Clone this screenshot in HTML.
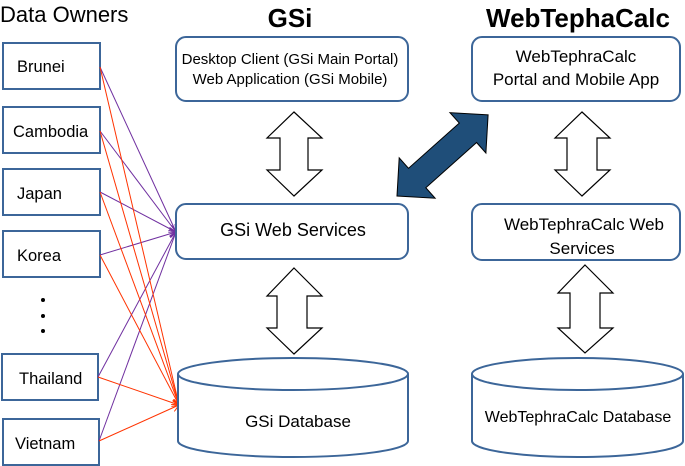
<!DOCTYPE html>
<html><head><meta charset="utf-8"><style>
html,body{margin:0;padding:0;background:#fff;}
svg{display:block;}
text{font-family:"Liberation Sans",sans-serif;fill:#000;}
</style></head><body>
<svg width="685" height="466" viewBox="0 0 685 466" xmlns="http://www.w3.org/2000/svg">
<defs>
<marker id="ap" markerWidth="8" markerHeight="8" refX="7" refY="4" orient="auto" markerUnits="userSpaceOnUse"><path d="M0,0 L7,4 L0,8" fill="none" stroke="#7030a0" stroke-width="1"/></marker>
<marker id="ar" markerWidth="8" markerHeight="8" refX="7" refY="4" orient="auto" markerUnits="userSpaceOnUse"><path d="M0,0 L7,4 L0,8" fill="none" stroke="#ff3300" stroke-width="1"/></marker>
</defs>
<text x="0" y="22" font-size="22">Data Owners</text>
<text x="290" y="27" font-size="26" font-weight="bold" text-anchor="middle">GSi</text>
<text x="578" y="27" font-size="26" font-weight="bold" text-anchor="middle">WebTephaCalc</text>

<g fill="#fff" stroke="#3c6699" stroke-width="2">
<rect x="3" y="43" width="97" height="46"/>
<rect x="3" y="107" width="97" height="46"/>
<rect x="3" y="169" width="97" height="46"/>
<rect x="3" y="231" width="97" height="46"/>
<rect x="2" y="354" width="96" height="46"/>
<rect x="3" y="419" width="96" height="46"/>
</g>
<g font-size="16.5">
<text x="17" y="72">Brunei</text>
<text x="13" y="137">Cambodia</text>
<text x="17" y="199">Japan</text>
<text x="17" y="261">Korea</text>
<text x="19" y="384">Thailand</text>
<text x="15" y="449">Vietnam</text>
</g>
<g fill="#000"><circle cx="43" cy="300" r="2"/><circle cx="43" cy="316" r="2"/><circle cx="43" cy="331" r="2"/></g>

<g stroke="#7030a0" stroke-width="1" fill="none" marker-end="url(#ap)">
<line x1="100" y1="67" x2="176" y2="232"/>
<line x1="100" y1="131" x2="176" y2="232"/>
<line x1="100" y1="192" x2="176" y2="232"/>
<line x1="100" y1="255" x2="176" y2="232"/>
<line x1="98" y1="377" x2="176" y2="232"/>
<line x1="99" y1="441" x2="176" y2="232"/>
</g>
<g stroke="#ff3300" stroke-width="1" fill="none" marker-end="url(#ar)">
<line x1="100" y1="67" x2="179" y2="405"/>
<line x1="100" y1="131" x2="179" y2="405"/>
<line x1="100" y1="192" x2="179" y2="405"/>
<line x1="100" y1="255" x2="179" y2="405"/>
<line x1="98" y1="377" x2="179" y2="405"/>
<line x1="99" y1="441" x2="179" y2="405"/>
</g>

<g fill="#fff" stroke="#3c6699" stroke-width="2">
<rect x="176" y="37" width="232" height="64" rx="10"/>
<rect x="176" y="204" width="232" height="55" rx="10"/>
<rect x="472" y="37" width="208" height="64" rx="10"/>
<rect x="472" y="204" width="208" height="56" rx="10"/>
<path d="M178,374 L178,441 A115,16 0 0 0 408,441 L408,374"/>
<ellipse cx="293" cy="374" rx="115" ry="16"/>
<path d="M472,374 L472,441 A105.5,16 0 0 0 683,441 L683,374"/>
<ellipse cx="577.5" cy="374" rx="105.5" ry="16"/>
</g>

<g text-anchor="middle">
<text x="290" y="64" font-size="15">Desktop Client (GSi Main Portal)</text>
<text x="290" y="84" font-size="15">Web Application (GSi Mobile)</text>
<text x="576" y="62" font-size="17">WebTephraCalc</text>
<text x="576" y="85" font-size="17">Portal and Mobile App</text>
<text x="293" y="236" font-size="18">GSi Web Services</text>
<text x="584" y="230" font-size="17">WebTephraCalc Web</text>
<text x="582" y="254" font-size="17">Services</text>
<text x="298" y="427" font-size="17">GSi Database</text>
<text x="578" y="422" font-size="16">WebTephraCalc Database</text>
</g>

<g fill="#fff" stroke="#000" stroke-width="1.2">
<path d="M294,112 L322,138 L308,138 L308,170 L322,170 L294,196 L267,170 L280,170 L280,138 L267,138 Z"/>
<path d="M582,112 L610,138 L597,138 L597,170 L610,170 L582,196 L555,170 L567,170 L567,138 L555,138 Z"/>
<path d="M294,268 L322,296 L307,296 L307,328 L322,328 L294,354 L267,328 L277,328 L277,296 L267,296 Z"/>
<path d="M585,265 L613,293 L600,293 L600,328 L613,328 L585,353 L558,328 L570,328 L570,293 L558,293 Z"/>
</g>

<polygon transform="translate(397,196) rotate(-41.7)" points="0,0 27,-27 27,-13 95,-13 95,-27 122,0 95,27 95,13 27,13 27,27" fill="#1f4e79" stroke="#000" stroke-width="1"/>
</svg>
</body></html>
